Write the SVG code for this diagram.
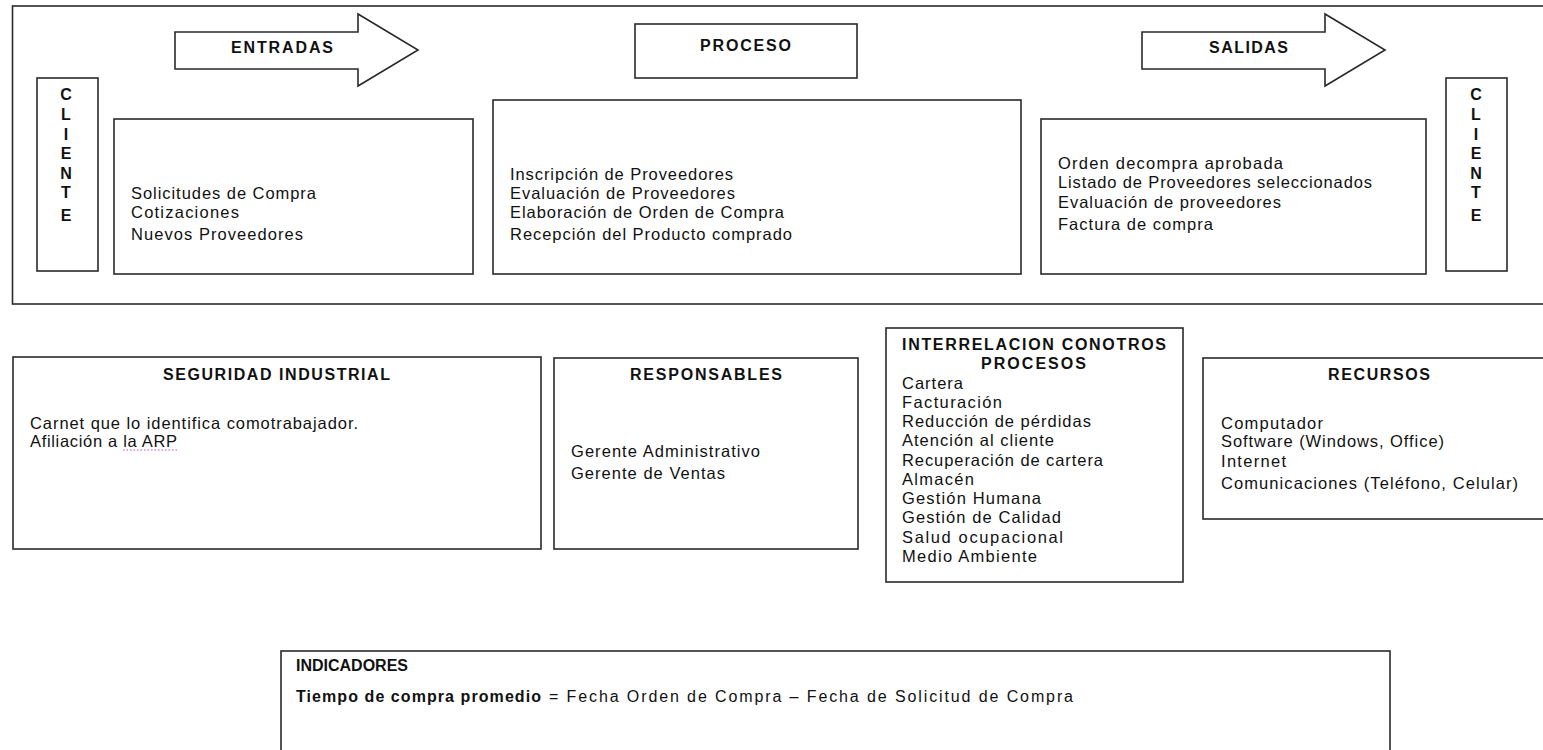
<svg xmlns="http://www.w3.org/2000/svg" width="1543" height="750" viewBox="0 0 1543 750">
<style>
.box{fill:#fff;stroke:#2a2a2a;stroke-width:1.6}
.t{font-family:"Liberation Sans",Arial,sans-serif;font-size:16.5px;fill:#111}
.b{font-family:"Liberation Sans",Arial,sans-serif;font-size:16px;font-weight:bold;fill:#111}
.c{font-family:"Liberation Sans",Arial,sans-serif;font-size:16px;font-weight:bold;fill:#111;text-anchor:middle}
.s{font-family:"Liberation Sans",Arial,sans-serif;font-size:16px;fill:#111}
</style>
<rect width="1543" height="750" fill="#fff"/>
<g id="marco"><rect class="box" x="12.5" y="6" width="1540" height="298"/></g>
<g id="connectors">
<path id="flecha-entradas" class="box" d="M175,32 H358 V14 L418,50 L358,86 V69 H175 Z"/>
<path id="flecha-salidas" class="box" d="M1142,32 H1325 V14 L1385,50 L1325,86 V69 H1142 Z"/>
</g>
<g id="lbl-entradas"><text class="b" x="231" y="53" textLength="102" lengthAdjust="spacing">ENTRADAS</text></g>
<g id="lbl-salidas"><text class="b" x="1209" y="53" textLength="79" lengthAdjust="spacing">SALIDAS</text></g>
<g id="cliente-izq">
<rect class="box" x="37" y="78" width="61" height="193"/>
<text class="c" x="66" y="100">C</text><text class="c" x="66" y="120">L</text><text class="c" x="66" y="140">I</text><text class="c" x="66" y="159">E</text><text class="c" x="66" y="179">N</text><text class="c" x="66" y="198">T</text><text class="c" x="66" y="221">E</text>
</g>
<g id="entradas">
<rect class="box" x="114" y="119" width="359" height="155"/>
<text class="t" x="131" y="199" textLength="185" lengthAdjust="spacing">Solicitudes de Compra</text>
<text class="t" x="131" y="218" textLength="108" lengthAdjust="spacing">Cotizaciones</text>
<text class="t" x="131" y="240" textLength="172" lengthAdjust="spacing">Nuevos Proveedores</text>
</g>
<g id="proceso-titulo">
<rect class="box" x="635" y="24" width="222" height="54"/>
<text class="b" x="700" y="51" textLength="91" lengthAdjust="spacing">PROCESO</text>
</g>
<g id="proceso">
<rect class="box" x="493" y="100" width="528" height="174"/>
<text class="t" x="510" y="180" textLength="223" lengthAdjust="spacing">Inscripción de Proveedores</text>
<text class="t" x="510" y="199" textLength="225" lengthAdjust="spacing">Evaluación de Proveedores</text>
<text class="t" x="510" y="218" textLength="274" lengthAdjust="spacing">Elaboración de Orden de Compra</text>
<text class="t" x="510" y="240" textLength="282" lengthAdjust="spacing">Recepción del Producto comprado</text>
</g>
<g id="salidas">
<rect class="box" x="1041" y="119" width="385" height="155"/>
<text class="t" x="1058" y="169" textLength="225" lengthAdjust="spacing">Orden decompra aprobada</text>
<text class="t" x="1058" y="188" textLength="314" lengthAdjust="spacing">Listado de Proveedores seleccionados</text>
<text class="t" x="1058" y="208" textLength="223" lengthAdjust="spacing">Evaluación de proveedores</text>
<text class="t" x="1058" y="230" textLength="155" lengthAdjust="spacing">Factura de compra</text>
</g>
<g id="cliente-der">
<rect class="box" x="1446" y="78" width="61" height="193"/>
<text class="c" x="1476" y="100">C</text><text class="c" x="1476" y="120">L</text><text class="c" x="1476" y="140">I</text><text class="c" x="1476" y="159">E</text><text class="c" x="1476" y="179">N</text><text class="c" x="1476" y="198">T</text><text class="c" x="1476" y="221">E</text>
</g>
<g id="seguridad">
<rect class="box" x="13" y="357" width="528" height="192"/>
<text class="b" x="163" y="380" textLength="227" lengthAdjust="spacing">SEGURIDAD INDUSTRIAL</text>
<text class="t" x="30" y="429" textLength="328" lengthAdjust="spacing">Carnet que lo identifica comotrabajador.</text>
<text class="t" x="30" y="447" textLength="147" lengthAdjust="spacing">Afiliación a la ARP</text>
<line x1="123" y1="450" x2="177" y2="450" stroke="#d040d0" stroke-width="1" stroke-dasharray="1.5,2"/>
</g>
<g id="responsables">
<rect class="box" x="554" y="358" width="304" height="191"/>
<text class="b" x="630" y="380" textLength="152" lengthAdjust="spacing">RESPONSABLES</text>
<text class="t" x="571" y="457" textLength="189" lengthAdjust="spacing">Gerente Administrativo</text>
<text class="t" x="571" y="479" textLength="154" lengthAdjust="spacing">Gerente de Ventas</text>
</g>
<g id="interrelacion">
<rect class="box" x="886" y="328" width="297" height="254"/>
<text class="b" x="902" y="350" textLength="264" lengthAdjust="spacing">INTERRELACION CONOTROS</text>
<text class="b" x="981" y="369" textLength="105" lengthAdjust="spacing">PROCESOS</text>
<text class="t" x="902" y="389" textLength="61" lengthAdjust="spacing">Cartera</text>
<text class="t" x="902" y="408" textLength="100" lengthAdjust="spacing">Facturación</text>
<text class="t" x="902" y="427" textLength="189" lengthAdjust="spacing">Reducción de pérdidas</text>
<text class="t" x="902" y="446" textLength="152" lengthAdjust="spacing">Atención al cliente</text>
<text class="t" x="902" y="466" textLength="201" lengthAdjust="spacing">Recuperación de cartera</text>
<text class="t" x="902" y="485" textLength="72" lengthAdjust="spacing">Almacén</text>
<text class="t" x="902" y="504" textLength="139" lengthAdjust="spacing">Gestión Humana</text>
<text class="t" x="902" y="523" textLength="159" lengthAdjust="spacing">Gestión de Calidad</text>
<text class="t" x="902" y="543" textLength="161" lengthAdjust="spacing">Salud ocupacional</text>
<text class="t" x="902" y="562" textLength="135" lengthAdjust="spacing">Medio Ambiente</text>
</g>
<g id="recursos">
<rect class="box" x="1203" y="358" width="360" height="161"/>
<text class="b" x="1328" y="380" textLength="102" lengthAdjust="spacing">RECURSOS</text>
<text class="t" x="1221" y="429" textLength="102" lengthAdjust="spacing">Computador</text>
<text class="t" x="1221" y="447" textLength="223" lengthAdjust="spacing">Software (Windows, Office)</text>
<text class="t" x="1221" y="467" textLength="65" lengthAdjust="spacing">Internet</text>
<text class="t" x="1221" y="489" textLength="297" lengthAdjust="spacing">Comunicaciones (Teléfono, Celular)</text>
</g>
<g id="indicadores">
<rect class="box" x="281" y="651" width="1109" height="120"/>
<text class="s" x="296" y="671" font-weight="bold">INDICADORES</text>
<text class="s" x="296" y="702" font-weight="bold" textLength="245" lengthAdjust="spacing">Tiempo de compra promedio</text>
<text class="s" x="549" y="702" textLength="524" lengthAdjust="spacing">= Fecha Orden de Compra – Fecha de Solicitud de Compra</text>
</g>
</svg>
